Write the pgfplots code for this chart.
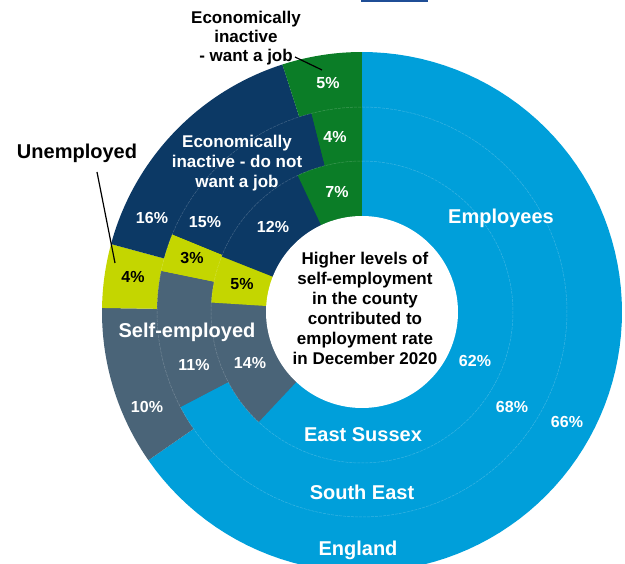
\documentclass[border=0pt]{standalone}
\usepackage{pgfplots}
\pgfplotsset{compat=1.18}
\usepackage{fontspec}
\setmainfont{Liberation Sans}
\definecolor{emp}{HTML}{009FDA}
\definecolor{selfemp}{HTML}{4A6478}
\definecolor{unemp}{HTML}{C4D600}
\definecolor{notwant}{HTML}{0C3965}
\definecolor{want}{HTML}{0B7D27}
\definecolor{linkblue}{HTML}{1F4E96}

\newcommand\sector[4]{%
  \edef\tmp{\noexpand\addplot[draw=none, fill=#1, domain=#3:#4, samples=90]
    ({362+#2*sin(x)},{312-#2*cos(x)}) -- (axis cs:362,312) -- cycle;}\tmp}

% R, Employees, Self-employed, Unemployed, Inactive (do not want a job), Inactive (want a job)
\newcommand\ring[6]{%
  \pgfmathsetmacro\rgTot{#2+#3+#4+#5+#6}%
  \pgfmathsetmacro\rgA{(#2)/\rgTot*360}%
  \pgfmathsetmacro\rgB{(#2+#3)/\rgTot*360}%
  \pgfmathsetmacro\rgC{(#2+#3+#4)/\rgTot*360}%
  \pgfmathsetmacro\rgD{(#2+#3+#4+#5)/\rgTot*360}%
  \sector{emp}{#1}{0}{\rgA}%
  \sector{selfemp}{#1}{\rgA}{\rgB}%
  \sector{unemp}{#1}{\rgB}{\rgC}%
  \sector{notwant}{#1}{\rgC}{\rgD}%
  \sector{want}{#1}{\rgD}{360}%
}

\begin{document}
\begin{tikzpicture}
\useasboundingbox (0,0) rectangle (625pt,564pt);
\begin{axis}[
  at={(0,0)}, anchor=south west,
  width=625pt, height=564pt, scale only axis, hide axis,
  xmin=0, xmax=625, ymin=0, ymax=564, y dir=reverse,
  clip=true,
]
% England (outer), South East (middle), East Sussex (inner)
\ring{260}{66}{10}{4}{16}{5}
\ring{205}{68}{11}{3}{15}{4}
\ring{151}{62}{14}{5}{12}{7}
% faint ring separators
\addplot[white, opacity=0.22, line width=0.5pt, dash pattern=on 3pt off 1pt, domain=0:360, samples=150]
  ({362+205*sin(x)},{312-205*cos(x)});
\addplot[white, opacity=0.22, line width=0.5pt, dash pattern=on 3pt off 1pt, domain=0:360, samples=150]
  ({362+151*sin(x)},{312-151*cos(x)});
% centre hole
\addplot[fill=white, draw=none, domain=0:360, samples=150]
  ({362+96*sin(x)},{312-96*cos(x)}) -- cycle;

% link remnant at top
\fill[linkblue] (axis cs:361,0) rectangle (axis cs:428,2.2);

% labels
\begin{scope}[every node/.style={font=\bfseries\fontsize{16}{19}\selectfont, text=white, inner sep=0pt}]
\node at (axis cs:475,361) {62\%};
\node at (axis cs:512,407) {68\%};
\node at (axis cs:567,422) {66\%};
\node at (axis cs:250,363) {14\%};
\node at (axis cs:194,365) {11\%};
\node at (axis cs:147,407) {10\%};
\node[text=black] at (axis cs:242,284) {5\%};
\node[text=black] at (axis cs:192,258) {3\%};
\node[text=black] at (axis cs:133,277) {4\%};
\node at (axis cs:273,227) {12\%};
\node at (axis cs:205,222) {15\%};
\node at (axis cs:152,218) {16\%};
\node at (axis cs:337,192) {7\%};
\node at (axis cs:335,137) {4\%};
\node at (axis cs:328,83) {5\%};
\end{scope}
\begin{scope}[every node/.style={font=\bfseries\fontsize{20}{24}\selectfont, text=white, inner sep=0pt}]
\node at (axis cs:501,218) {Employees};
\node at (axis cs:187,332) {Self-employed};
\node at (axis cs:363,435) {East Sussex};
\node at (axis cs:362,492) {South East};
\node at (axis cs:358,550) {England};
\node[text=black] at (axis cs:77,153) {Unemployed};
\end{scope}
\node[font=\bfseries\fontsize{17}{20}\selectfont, text=white, align=center, inner sep=0pt]
  at (axis cs:237,163) {Economically\\inactive - do not\\want a job};
\node[font=\bfseries\fontsize{17}{20}\selectfont, text=black, align=center, inner sep=0pt]
  at (axis cs:365,308) {Higher levels of\\self-employment\\in the county\\contributed to\\employment rate\\in December 2020};
\node[font=\bfseries\fontsize{17}{19}\selectfont, text=black, align=center, inner sep=0pt]
  at (axis cs:246,38) {Economically\\inactive\\- want a job};
\draw[black, line width=1.2pt] (axis cs:97,172) -- (axis cs:115,263);
\draw[black, line width=1.2pt] (axis cs:295,57) -- (axis cs:322,70);
\end{axis}
\end{tikzpicture}
\end{document}
